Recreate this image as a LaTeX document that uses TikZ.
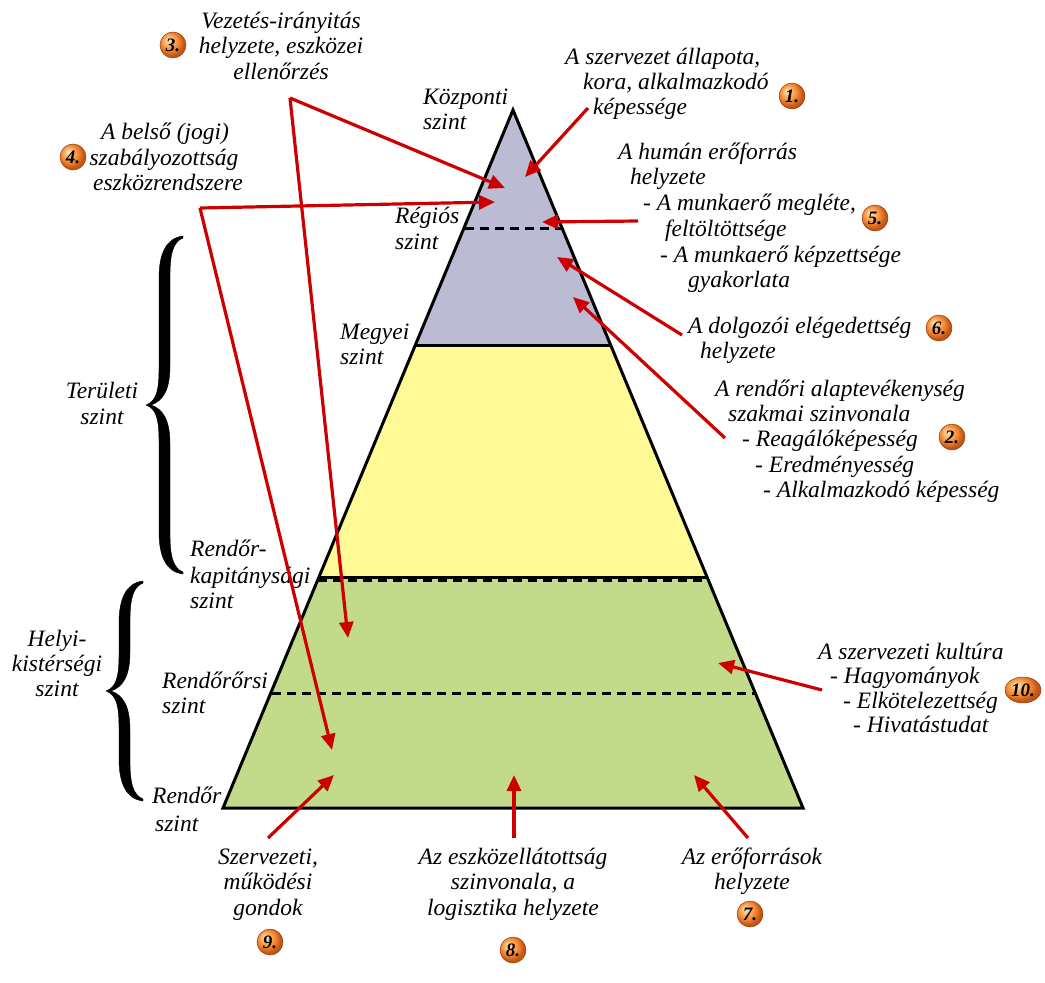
\documentclass[tikz,border=0pt]{standalone}
\usepackage{fontspec}
\setmainfont{Liberation Serif}
\usetikzlibrary{arrows.meta,shapes.geometric}
\definecolor{pyrpurple}{RGB}{187,187,212}
\definecolor{pyryellow}{RGB}{255,250,150}
\definecolor{pyrgreen}{RGB}{194,219,139}
\definecolor{arrred}{RGB}{204,0,0}
\definecolor{bcA}{RGB}{255,238,205}
\definecolor{bcB}{RGB}{252,178,100}
\definecolor{bcC}{RGB}{238,128,45}
\definecolor{bcD}{RGB}{195,88,22}
\definecolor{bcE}{RGB}{150,60,10}
\pgfdeclareradialshading{badgeball}{\pgfqpoint{-10bp}{10bp}}{color(0bp)=(bcA); color(9bp)=(bcB); color(18bp)=(bcC); color(25bp)=(bcD); color(50bp)=(bcE)}
\begin{document}
\begin{tikzpicture}[x=1pt,y=-1pt,
  lbl/.style={inner sep=0pt, anchor=base, font=\fontsize{23.5}{25}\selectfont\itshape},
  lblw/.style={lbl, anchor=base west},
  redarrow/.style={draw=arrred, line width=3.2pt, -{Triangle[length=16pt,width=14pt]}},
  levelline/.style={line width=3pt},
  dashline/.style={line width=3pt, dash pattern=on 9pt off 6pt},
  badge/.style={circle, shading=badgeball, draw=bcE, line width=0.5pt,
    minimum size=26pt, inner sep=0pt, font=\fontsize{19}{19}\selectfont\bfseries\itshape, text=black},
  badgeoval/.style={badge, ellipse, minimum width=36pt, minimum height=26pt},
  bracefill/.style={fill=black, draw=black, line width=0.4pt}
]
\useasboundingbox (0,0) rectangle (1045,983);

% pyramid fills
\fill[pyrpurple] (513,110) -- (610.5,345) -- (415.5,345) -- cycle;
\fill[pyryellow] (415.5,345) -- (610.5,345) -- (707,577) -- (319,577) -- cycle;
\fill[pyrgreen] (319,577) -- (707,577) -- (803,808) -- (223,808) -- cycle;
% level lines
\draw[dashline] (465,228) -- (561,228);
\draw[levelline] (415.5,345) -- (610.5,345);
\draw[levelline] (319,577) -- (707,577);
\draw[dashline] (318,580) -- (708,580);
\draw[dashline] (272,693) -- (754,693);
% outline
\draw[line width=3pt, line join=miter] (513,110) -- (803,808) -- (223,808) -- cycle;

% braces
\path[bracefill] (183,236) .. controls (166,238) and (159,254) .. (159,278) -- (159,368)
  .. controls (159,392) and (156,401) .. (146,405) .. controls (156,409) and (159,418) .. (159,442)
  -- (159,532) .. controls (159,556) and (166,572) .. (183,574) -- (183,572)
  .. controls (173,568) and (170,556) .. (170,534) -- (170,444)
  .. controls (170,420) and (163,409) .. (151,405) .. controls (163,401) and (170,390) .. (170,366)
  -- (170,276) .. controls (170,254) and (173,242) .. (183,238) -- cycle;
\path[bracefill] (143,581) .. controls (126,583) and (119,599) .. (119,623) -- (119,654)
  .. controls (119,678) and (116,687) .. (106,691) .. controls (116,695) and (119,704) .. (119,728)
  -- (119,759) .. controls (119,783) and (126,799) .. (143,801) -- (143,799)
  .. controls (133,795) and (130,783) .. (130,761) -- (130,730)
  .. controls (130,706) and (123,695) .. (111,691) .. controls (123,687) and (130,676) .. (130,652)
  -- (130,621) .. controls (130,599) and (133,587) .. (143,583) -- cycle;

% level labels
\node[lblw] (kp1) at (423,104) {Központi};
\node[lblw] (kp2) at (423,129) {szint};
\node[lblw] (rg1) at (395,223) {Régiós};
\node[lblw] (rg2) at (395,249) {szint};
\node[lblw] (mg1) at (340,339) {Megyei};
\node[lblw] (mg2) at (340,364) {szint};
\node[lblw] (rk1) at (190,556) {Rendőr-};
\node[lblw] (rk2) at (190,583) {kapitánysági};
\node[lblw] (rk3) at (190,608) {szint};
\node[lblw] (ro1) at (162,688) {Rendőrőrsi};
\node[lblw] (ro2) at (162,713) {szint};
\node[lblw] (rd1) at (152,803) {Rendőr};
\node[lblw] (rd2) at (155,831) {szint};
\node[lbl] (te1) at (102,398) {Területi};
\node[lbl] (te2) at (102,424) {szint};
\node[lbl] (hk1) at (57,646) {Helyi-};
\node[lbl] (hk2) at (57,671) {kistérségi};
\node[lbl] (hk3) at (57,696) {szint};

% block 3
\node[lbl] (t3a) at (281,28) {Vezetés-irányitás};
\node[lbl] (t3b) at (281,53) {helyzete, eszközei};
\node[lbl] (t3c) at (281,79) {ellenőrzés};
\node[badge] (b3) at (173,45) {3.};
% block 4
\node[lbl] (t4a) at (165,139) {A belső (jogi)};
\node[lbl] (t4b) at (164,165) {szabályozottság};
\node[lbl] (t4c) at (168,190) {eszközrendszere};
\node[badge] (b4) at (73,157) {4.};
% block 1
\node[lblw] (t1a) at (565,64) {A szervezet állapota,};
\node[lblw] (t1b) at (583,89) {kora, alkalmazkodó};
\node[lblw] (t1c) at (593,114) {képessége};
\node[badge] (b1) at (792,96) {1.};
% block 5
\node[lblw] (t5a) at (618,159) {A humán erőforrás};
\node[lblw] (t5b) at (630,184) {helyzete};
\node[lblw] (t5c) at (643,210) {- A munkaerő megléte,};
\node[lblw] (t5d) at (665,236) {feltöltöttsége};
\node[lblw] (t5e) at (660,262) {- A munkaerő képzettsége};
\node[lblw] (t5f) at (688,287) {gyakorlata};
\node[badge] (b5) at (875,218) {5.};
% block 6
\node[lblw] (t6a) at (688,333) {A dolgozói elégedettség};
\node[lblw] (t6b) at (700,358) {helyzete};
\node[badge] (b6) at (939,328) {6.};
% block 2
\node[lblw] (t2a) at (715,396) {A rendőri alaptevékenység};
\node[lblw] (t2b) at (728,421) {szakmai szinvonala};
\node[lblw] (t2c) at (742,446) {- Reagálóképesség};
\node[lblw] (t2d) at (755,472) {- Eredményesség};
\node[lblw] (t2e) at (763,497) {- Alkalmazkodó képesség};
\node[badge] (b2) at (952,437) {2.};
% block 10
\node[lblw] (t10a) at (818,659) {A szervezeti kultúra};
\node[lblw] (t10b) at (830,683) {- Hagyományok};
\node[lblw] (t10c) at (843,708) {- Elkötelezettség};
\node[lblw] (t10d) at (853,732) {- Hivatástudat};
\node[badgeoval] (b10) at (1023,690) {10.};
% bottom blocks
\node[lbl] (t9a) at (268,864) {Szervezeti,};
\node[lbl] (t9b) at (268,889) {működési};
\node[lbl] (t9c) at (268,915) {gondok};
\node[badge] (b9) at (270,942) {9.};
\node[lbl] (t8a) at (513,864) {Az eszközellátottság};
\node[lbl] (t8b) at (513,889) {szinvonala, a};
\node[lbl] (t8c) at (513,915) {logisztika helyzete};
\node[badge] (b8) at (513,950) {8.};
\node[lbl] (t7a) at (752,864) {Az erőforrások};
\node[lbl] (t7b) at (752,889) {helyzete};
\node[badge] (b7) at (750,914) {7.};

% arrow coordinates
\coordinate (j3) at (290,98);
\coordinate (e3a) at (505,188);
\coordinate (e3b) at (348,638);
\coordinate (j4) at (200,208);
\coordinate (e4a) at (495,202);
\coordinate (e4b) at (332,750);
\coordinate (s1) at (588,108);
\coordinate (e1) at (525,177);
\coordinate (s5) at (638,221);
\coordinate (e5) at (542,222);
\coordinate (s6) at (682,335);
\coordinate (e6) at (557,257);
\coordinate (s2) at (725,438);
\coordinate (e2) at (573,297);
\coordinate (s10) at (822,690);
\coordinate (e10) at (718,663);
\coordinate (s9) at (268,838);
\coordinate (e9) at (334,775);
\coordinate (s8) at (514,838);
\coordinate (e8) at (514,775);
\coordinate (s7) at (748,838);
\coordinate (e7) at (694,775);

\draw[redarrow] (j3) -- (e3a);
\draw[redarrow] (j3) -- (e3b);
\draw[redarrow] (j4) -- (e4a);
\draw[redarrow] (j4) -- (e4b);
\draw[redarrow] (s1) -- (e1);
\draw[redarrow] (s5) -- (e5);
\draw[redarrow] (s6) -- (e6);
\draw[redarrow] (s2) -- (e2);
\draw[redarrow] (s10) -- (e10);
\draw[redarrow] (s9) -- (e9);
\draw[redarrow] (s8) -- (e8);
\draw[redarrow] (s7) -- (e7);
\end{tikzpicture}
\end{document}
